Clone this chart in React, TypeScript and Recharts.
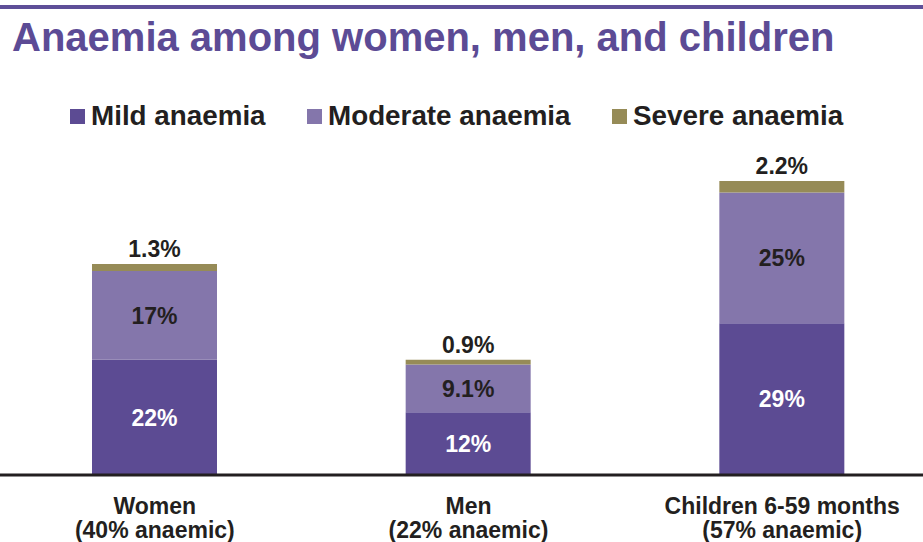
import { BarChart, Bar, XAxis, YAxis, LabelList, Legend } from "recharts";

const groups = ["Women", "Men", "Children 6-59 months"];
const groupNotes = ["(40% anaemic)", "(22% anaemic)", "(57% anaemic)"];
const mild = [22, 12, 29];
const moderate = [17, 9.1, 25];
const severe = [1.3, 0.9, 2.2];

const seriesNames = ["Mild anaemia", "Moderate anaemia", "Severe anaemia"];
const colors = ["#5c4b93", "#8476ab", "#968b57"];

const data = groups.map((g, i) => ({
  group: g,
  note: groupNotes[i],
  mild: mild[i],
  moderate: moderate[i],
  severe: severe[i],
}));

const FONT = '"Liberation Sans", Arial, sans-serif';
const pct = (v: any) => `${v}%`;

const GroupTick = (props: any) => {
  const { x, y, payload, index } = props;
  return (
    <g>
      <text
        x={x}
        y={y}
        textAnchor="middle"
        fontFamily={FONT}
        fontWeight="bold"
        fontSize={23}
        fill="#231f20"
      >
        <tspan x={x} dy={31}>{payload.value}</tspan>
        <tspan x={x} dy={24}>{groupNotes[index]}</tspan>
      </text>
    </g>
  );
};

// legend item widths roughly as in the slide
const itemWidths = [237, 305, 260];

const LegendBox = () => (
  <div
    style={{
      display: "flex",
      alignItems: "center",
      fontFamily: FONT,
      fontWeight: "bold",
      fontSize: 27.8,
      lineHeight: "30px",
      color: "#231f20",
      paddingLeft: 72,
    }}
  >
    {seriesNames.map((n, i) => (
      <div
        key={n}
        style={{ display: "flex", alignItems: "center", width: itemWidths[i], whiteSpace: "nowrap" }}
      >
        <span
          style={{
            width: 15,
            height: 15,
            background: colors[i],
            marginRight: 6,
            display: "inline-block",
          }}
        />
        <span>{n}</span>
      </div>
    ))}
  </div>
);

export default function App() {
  return (
    <div
      style={{
        position: "absolute",
        left: 0,
        top: 0,
        width: 923,
        height: 542,
        overflow: "hidden",
        background: "#fff",
      }}
    >
      <div
        style={{
          position: "absolute",
          left: 0,
          top: 5,
          width: 923,
          height: 4,
          background: "#5e4f98",
        }}
      />
      <div
        style={{
          position: "absolute",
          left: 12,
          top: 15,
          fontFamily: FONT,
          fontWeight: "bold",
          fontSize: 40,
          color: "#5c4b95",
          whiteSpace: "nowrap",
        }}
      >
        Anaemia among women, men, and children
      </div>
      <div style={{ position: "absolute", left: -2, top: 0 }}>
        <BarChart
          width={941}
          height={542}
          data={data}
          margin={{ top: 161, right: 0, left: 0, bottom: 0 }}
          barSize={125}
        >
          <XAxis
            dataKey="group"
            height={67}
            axisLine={{ stroke: "#231f20", strokeWidth: 3 }}
            tickLine={false}
            tick={<GroupTick />}
            interval={0}
          />
          <YAxis hide domain={[0, 60]} />
          <Legend
            layout="horizontal"
            verticalAlign="middle"
            align="center"
            wrapperStyle={{ top: 101, left: 0, width: 941 }}
            content={<LegendBox />}
          />
          <Bar dataKey="mild" stackId="a" fill={colors[0]} isAnimationActive={false}>
            <LabelList
              dataKey="mild"
              position="center"
              formatter={pct}
              fill="#ffffff"
              fontFamily={FONT}
              fontWeight="bold"
              fontSize={23}
            />
          </Bar>
          <Bar dataKey="moderate" stackId="a" fill={colors[1]} isAnimationActive={false}>
            <LabelList
              dataKey="moderate"
              position="center"
              formatter={pct}
              fill="#231f20"
              fontFamily={FONT}
              fontWeight="bold"
              fontSize={23}
            />
          </Bar>
          <Bar dataKey="severe" stackId="a" fill={colors[2]} isAnimationActive={false}>
            <LabelList
              dataKey="severe"
              position="top"
              offset={7}
              formatter={pct}
              fill="#231f20"
              fontFamily={FONT}
              fontWeight="bold"
              fontSize={23}
            />
          </Bar>
        </BarChart>
      </div>
    </div>
  );
}
